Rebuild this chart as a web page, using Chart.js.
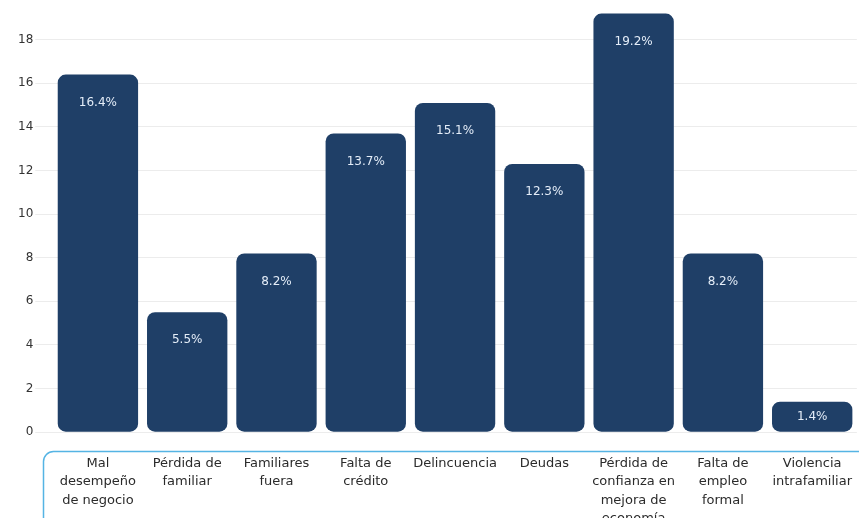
<!DOCTYPE html>
<html>
<head>
<meta charset="utf-8">
<script src="https://cdn.jsdelivr.net/npm/chart.js@4.4.1/dist/chart.umd.min.js"></script>
<style>
  html, body { margin: 0; padding: 0; background: #fff; overflow: hidden; }
  #caja { width: 866px; height: 542px; }
</style>
</head>
<body>
<div id="caja"><canvas id="grafico"></canvas></div>
<script>
// Motivos y porcentajes
var motivos = [
    ["Mal", "desempeño", "de negocio"],
    ["Pérdida de", "familiar"],
    ["Familiares", "fuera"],
    ["Falta de", "crédito"],
    "Delincuencia",
    "Deudas",
    ["Pérdida de", "confianza en", "mejora de", "economía"],
    ["Falta de", "empleo", "formal"],
    ["Violencia", "intrafamiliar"]
];
var porcentajes = [16.4, 5.5, 8.2, 13.7, 15.1, 12.3, 19.2, 8.2, 1.4];
var marcasEjeY = [0, 2, 4, 6, 8, 10, 12, 14, 16, 18];

var fuente = "'DejaVu Sans', sans-serif";

// Recuadro celeste alrededor de las etiquetas del eje x
var recuadroEtiquetas = {
    id: "recuadroEtiquetas",
    beforeDraw: function(chart) {
        var ctx = chart.ctx;
        ctx.save();
        ctx.strokeStyle = "#55b4e4";
        ctx.lineWidth = 1.5;
        ctx.beginPath();
        ctx.roundRect(43.5, 451.5, 860, 120, 10);
        ctx.stroke();
        ctx.restore();
    }
};

// Porcentaje escrito dentro de cada barra
var textoBarras = {
    id: "textoBarras",
    afterDatasetsDraw: function(chart) {
        var ctx = chart.ctx;
        var meta = chart.getDatasetMeta(0);
        ctx.save();
        ctx.fillStyle = "#e4edf8";
        ctx.font = "12px " + fuente;
        ctx.textAlign = "center";
        ctx.textBaseline = "middle";
        meta.data.forEach(function(barra, i) {
            var alto = barra.base - barra.y;
            var y = alto < 50 ? barra.y + alto / 2 : barra.y + 28;
            ctx.fillText(porcentajes[i].toFixed(1) + "%", barra.x, y);
        });
        ctx.restore();
    }
};

new Chart(document.getElementById("grafico"), {
    type: "bar",
    data: {
        labels: motivos,
        datasets: [{
            data: porcentajes,
            backgroundColor: "#1f3f67",
            borderRadius: 8,
            borderSkipped: false,
            barPercentage: 0.9,
            categoryPercentage: 1
        }]
    },
    options: {
        responsive: true,
        maintainAspectRatio: false,
        animation: false,
        layout: { padding: { left: 16, right: 0, top: 8, bottom: 0 } },
        plugins: {
            legend: { display: false },
            tooltip: { enabled: false }
        },
        scales: {
            x: {
                grid: { display: false },
                border: { display: false },
                ticks: {
                    color: "#2b2b2b",
                    font: { family: fuente, size: 13, lineHeight: 1.42 },
                    padding: 14,
                    maxRotation: 0,
                    autoSkip: false
                }
            },
            y: {
                min: 0,
                max: 19.4,
                afterBuildTicks: function(escala) {
                    escala.ticks = marcasEjeY.map(function(v) { return { value: v }; });
                },
                grid: { color: "#ececec", lineWidth: 1, tickLength: 18, tickColor: "#ececec" },
                border: { display: false },
                ticks: {
                    color: "#333",
                    font: { family: fuente, size: 12 },
                    padding: 2
                }
            }
        }
    },
    plugins: [recuadroEtiquetas, textoBarras]
});
</script>
</body>
</html>
